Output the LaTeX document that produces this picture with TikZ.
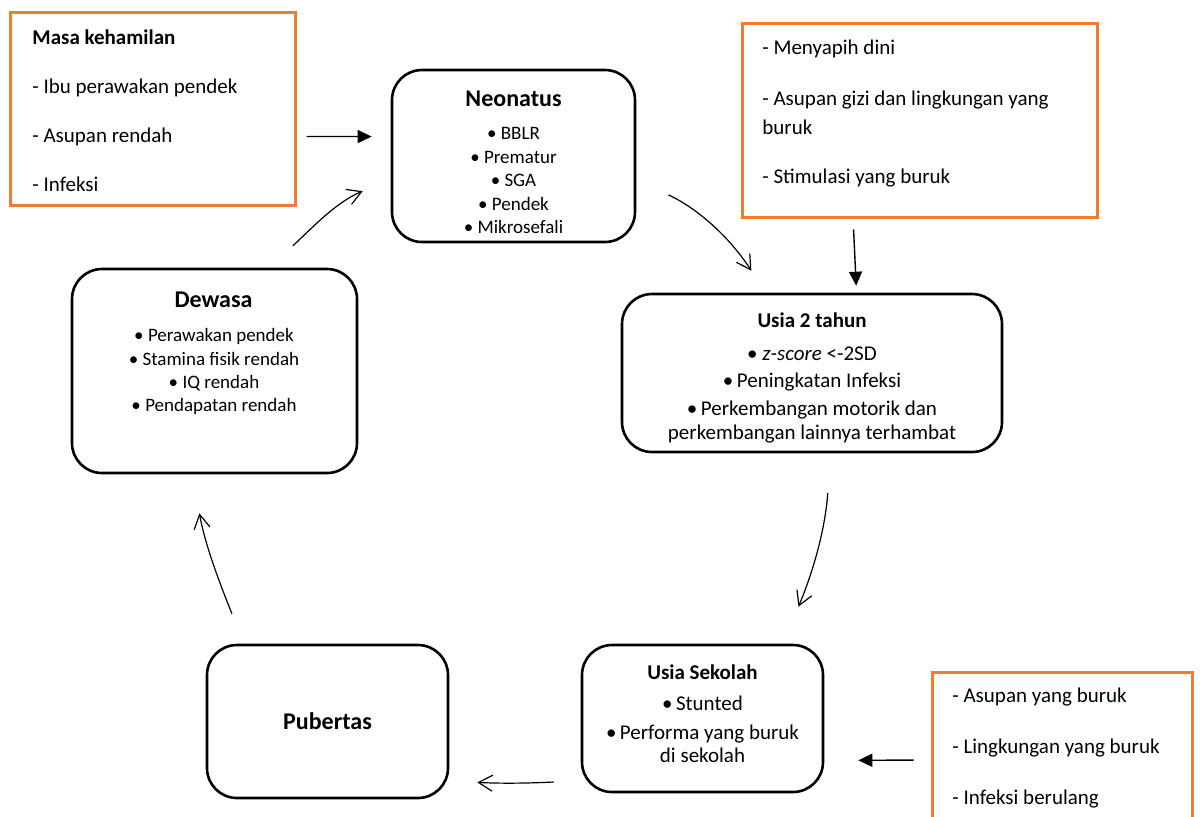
\documentclass[tikz,border=0pt]{standalone}
\usepackage{fontspec}
\setmainfont{Carlito}
\usepackage{tikz}
\usetikzlibrary{arrows.meta}
\definecolor{boxorange}{RGB}{237,125,49}

\tikzset{
  stagebox/.style={draw, line width=1.3pt, rounded corners=15pt, inner sep=0pt},
  factorbox/.style={draw=boxorange, line width=1.5pt, inner sep=0pt},
  boxtext/.style={inner sep=0pt, align=center, anchor=north},
  sidetext/.style={inner sep=0pt, align=left, anchor=north west, font=\fontsize{10.5}{14.5}\selectfont},
  stagetitle/.style={boxtext, font=\fontsize{12}{14}\selectfont\bfseries},
  subtitle/.style={boxtext, font=\fontsize{10.5}{12.5}\selectfont\bfseries},
  cyclearrow/.style={-{Straight Barb[length=7pt,width=8pt]}, line width=0.6pt},
  pusharrow/.style={-{Triangle[length=7pt,width=6.5pt]}, line width=0.7pt}
}

\begin{document}
\begin{tikzpicture}[x=0.5pt, y=-0.5pt]
\useasboundingbox (0,0) rectangle (1200,816);

% risk factor boxes
\node[factorbox, minimum width=142.5pt, minimum height=96.5pt] (masa) at (152.5,108.5) {};
\node[sidetext] (masatext) at (32,29.5) {\textbf{Masa kehamilan}\\[10pt]- Ibu perawakan pendek\\[10pt]- Asupan rendah\\[10pt]- Infeksi};

\node[factorbox, minimum width=177.5pt, minimum height=97pt] (menyapih) at (919.5,120) {};
\node[sidetext] (menyapihtext) at (762,39.6) {- Menyapih dini\\[11pt]- Asupan gizi dan lingkungan yang\\buruk\\[10pt]- Stimulasi yang buruk};

\node[factorbox, minimum width=130pt, minimum height=88pt] (infeksi) at (1062,760) {};
\node[sidetext] (infeksitext) at (952,687.6) {- Asupan yang buruk\\[11pt]- Lingkungan yang buruk\\[11pt]- Infeksi berulang};

% stages of the cycle
\node[stagebox, minimum width=121.5pt, minimum height=86pt] (neo) at (513.5,156) {};
\node[stagetitle] (neotitle) at (513.5,90.6) {Neonatus};
\node[boxtext, font=\fontsize{9.5}{11.75}\selectfont] (neoitems) at (513.5,127.3) {• BBLR\\• Prematur\\• SGA\\• Pendek\\• Mikrosefali};

\node[stagebox, minimum width=190pt, minimum height=79pt] (usia2) at (812,373) {};
\node[subtitle] (usia2title) at (812,312.6) {Usia 2 tahun};
\node[boxtext, font=\fontsize{10.5}{12}\selectfont] (usia2items) at (812,346.6) {• \textit{z-score} <-2SD\\[1.5pt]•\,Peningkatan Infeksi\\[2pt]•\,Perkembangan motorik dan\\perkembangan lainnya terhambat};

\node[stagebox, minimum width=120.5pt, minimum height=73.5pt] (sekolah) at (702.5,718.5) {};
\node[subtitle] (sekolahtitle) at (702.5,664.6) {Usia Sekolah};
\node[boxtext, font=\fontsize{10.5}{11.5}\selectfont] (sekolahitems) at (702.5,695.6) {•\,Stunted\\[3pt]•\,Performa yang buruk\\di sekolah};

\node[stagebox, minimum width=120.5pt, minimum height=76.5pt, font=\fontsize{12}{14}\selectfont\bfseries] (pub) at (327.5,721.5) {Pubertas};

\node[stagebox, minimum width=142.5pt, minimum height=102pt] (dewasa) at (214.5,371) {};
\node[stagetitle] (dewasatitle) at (213.5,291.6) {Dewasa};
\node[boxtext, font=\fontsize{9.5}{11.67}\selectfont] (dewasaitems) at (214,328.3) {• Perawakan pendek\\• Stamina fisik rendah\\• IQ rendah\\• Pendapatan rendah};

% influences
\draw[pusharrow, shorten <=5pt, shorten >=9.5pt] (masa.-11.7) -- (neo.171.6);
\draw[pusharrow, shorten <=5.5pt, shorten >=3.5pt] (menyapih.236.4) -- (usia2.61.4);
\draw[pusharrow, shorten <=8.5pt, shorten >=17pt] (infeksi.west) -- (sekolah.-19);

% the cycle
\draw[cyclearrow, shorten <=17.7pt, shorten >=13.1pt] (neo.-11.2) to[out=-25, in=123] (usia2.120.2);
\draw[cyclearrow, shorten <=20pt, shorten >=20.1pt] (usia2.-77.2) to[out=-94, in=67] (sekolah.43.1);
\draw[cyclearrow, shorten <=13.5pt, shorten >=14pt] (sekolah.207.6) to[out=183, in=-3] (pub.-26.5);
\draw[cyclearrow, shorten <=16.2pt, shorten >=19.8pt] (pub.137.2) to[out=112, in=-80] (dewasa.258.6);
\draw[cyclearrow, shorten <=16.1pt, shorten >=15.1pt] (dewasa.62.1) to[out=43, in=202] (neo.191.9);
\end{tikzpicture}
\end{document}
